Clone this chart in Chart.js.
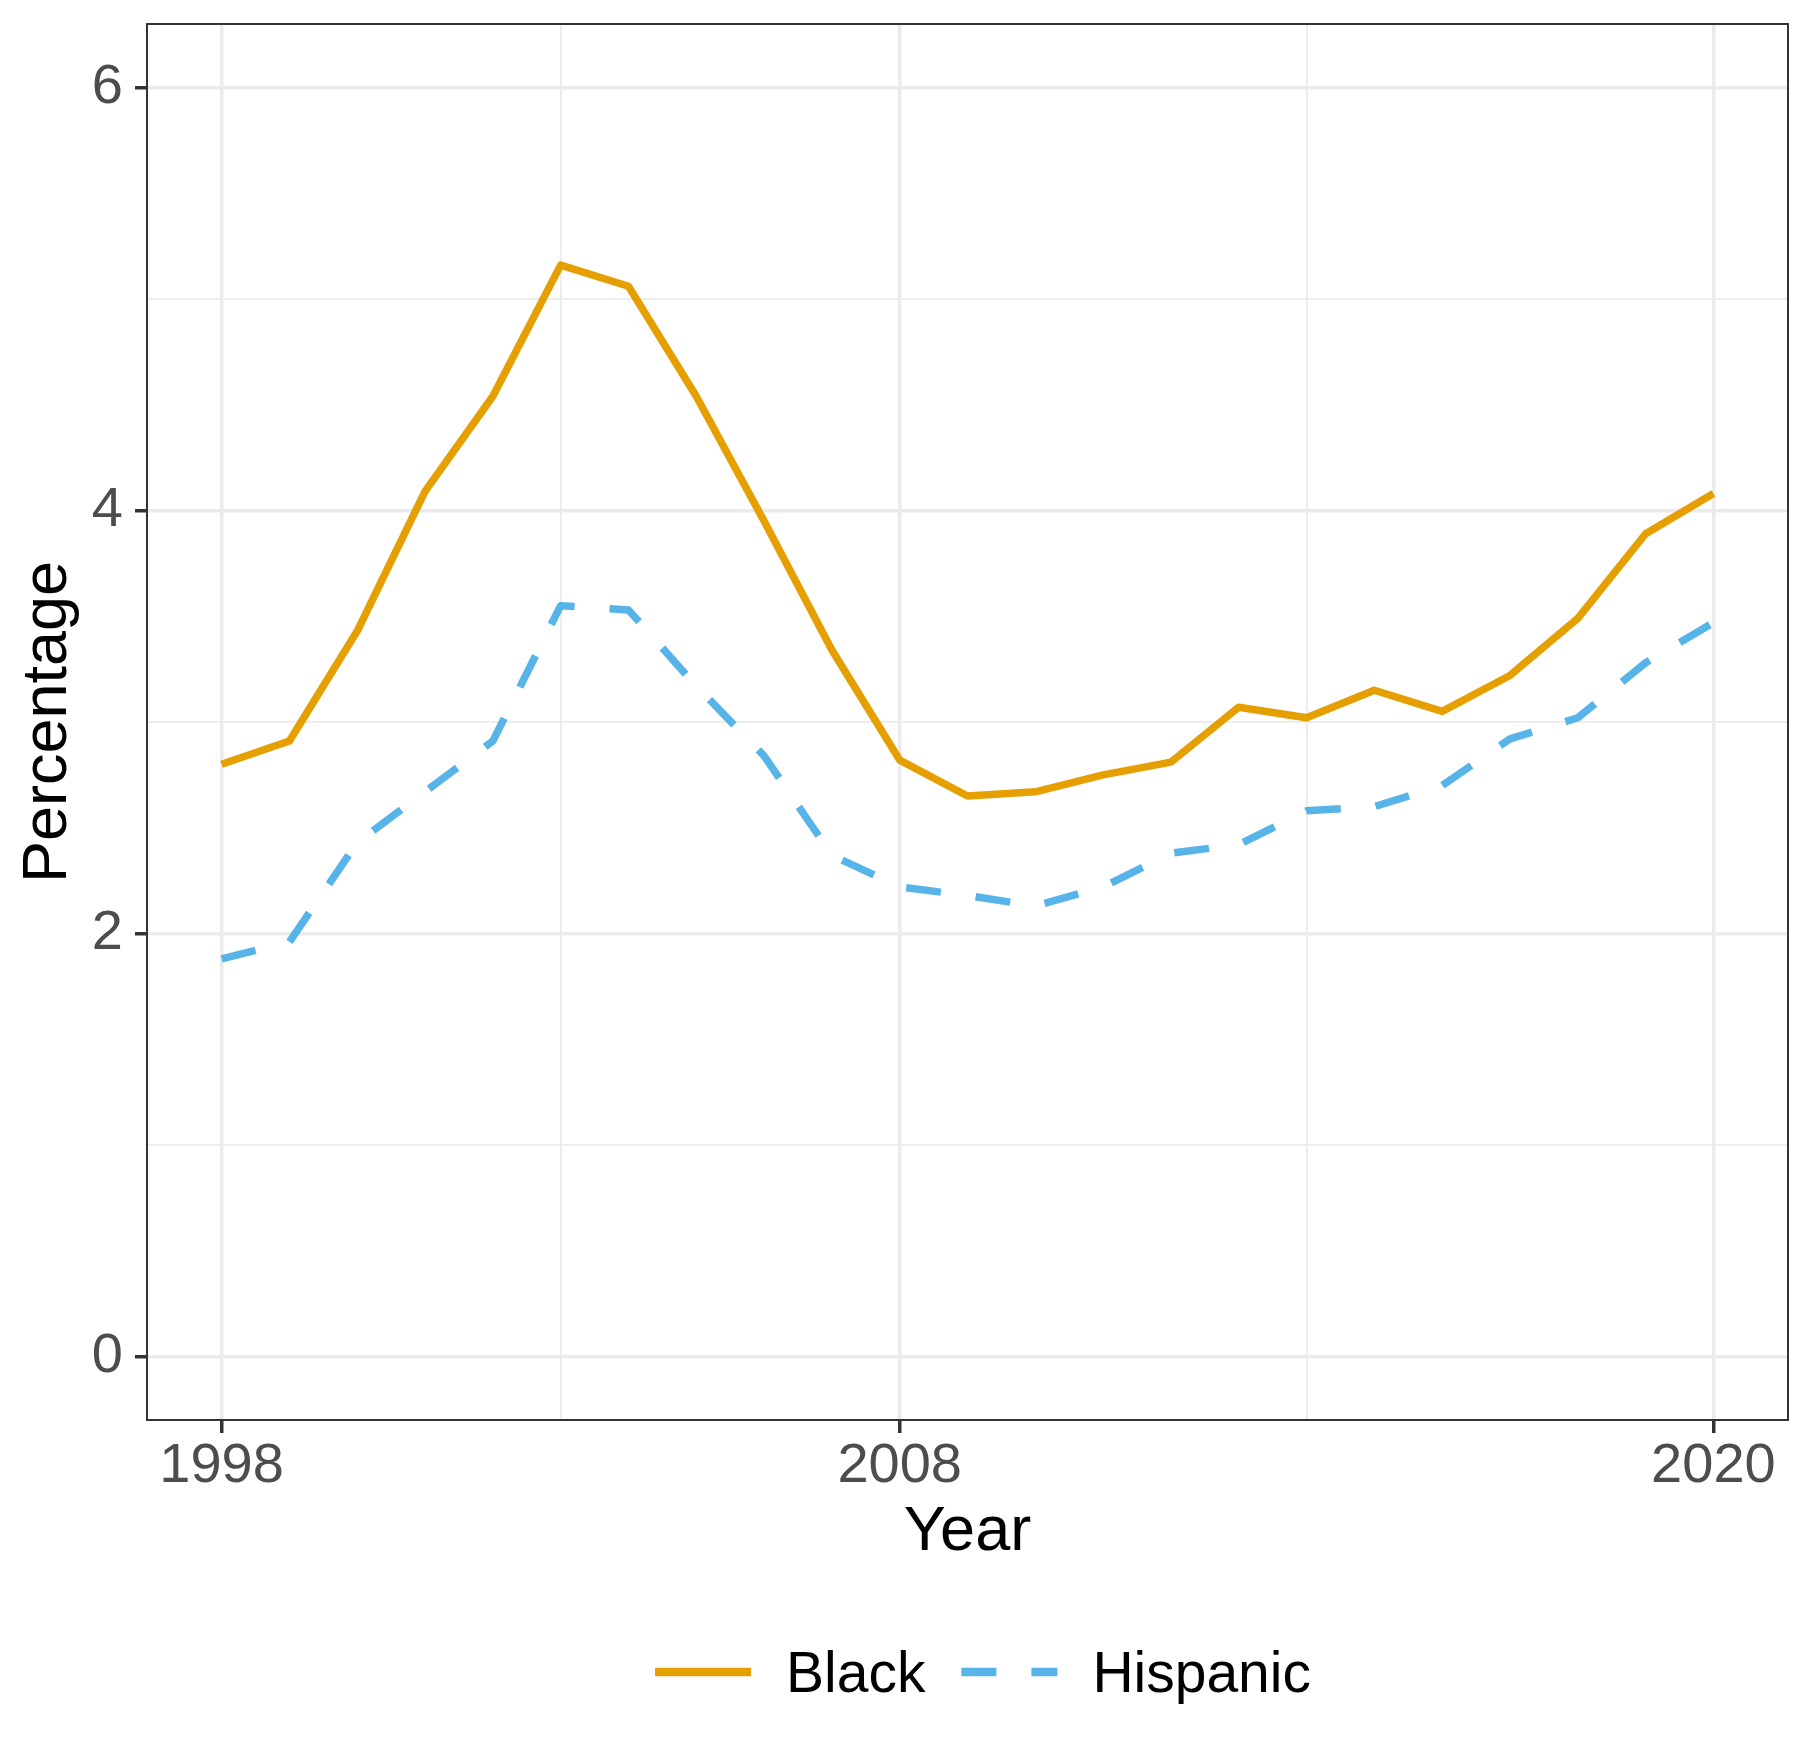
<!DOCTYPE html>
<html>
<head>
<meta charset="utf-8">
<script src="https://cdn.jsdelivr.net/npm/chart.js@4.4.0/dist/chart.umd.min.js"></script>
<style>
  html, body { margin: 0; padding: 0; background: #fff; }
  #wrap { width: 1812px; height: 1754px; }
</style>
</head>
<body>
<div id="wrap"><canvas id="chart" width="1812" height="1754"></canvas></div>
<script>
// données
const years = [1998, 1999, 2000, 2001, 2002, 2003, 2004, 2005, 2006, 2007, 2008,
  2009, 2010, 2011, 2012, 2013, 2014, 2015, 2016, 2017, 2018, 2019, 2020];
const black = [2.80, 2.91, 3.43, 4.09, 4.54, 5.16, 5.06, 4.54, 3.95, 3.34, 2.82,
  2.65, 2.67, 2.75, 2.81, 3.07, 3.02, 3.15, 3.05, 3.22, 3.49, 3.89, 4.08];
const hispanic = [1.88, 1.96, 2.43, 2.67, 2.91, 3.55, 3.53, 3.17, 2.84, 2.37, 2.22,
  2.18, 2.13, 2.22, 2.38, 2.42, 2.58, 2.60, 2.70, 2.92, 3.02, 3.28, 3.47];

// ticks : majeurs avec étiquette, mineurs = grille fine
const xMajor = [1998, 2008, 2020];
const xGrid = [1998, 2003, 2008, 2014, 2020];
const yMajor = [0, 2, 4, 6];
const yGrid = [0, 1, 2, 3, 4, 5, 6];

const FONT = "'Liberation Sans', Arial, Helvetica, sans-serif";
const GRID = '#EBEBEB';
const DARK = '#333333';

const toPoints = arr => arr.map((v, i) => ({x: years[i], y: v}));

// cadre du panneau (4 côtés)
const panelBorder = {
  id: 'panelBorder',
  afterDatasetsDraw(chart) {
    const {ctx, chartArea: a} = chart;
    ctx.save();
    ctx.strokeStyle = DARK;
    ctx.lineWidth = 2;
    ctx.strokeRect(a.left, a.top, a.right - a.left, a.bottom - a.top);
    ctx.restore();
  }
};

// légende en bas, façon ggplot
const bottomLegend = {
  id: 'bottomLegend',
  afterDraw(chart) {
    const ctx = chart.ctx;
    const keyW = 96, keyGap = 35, itemGap = 36;
    const cy = 1672;
    let x = 655;
    ctx.save();
    ctx.font = '57px ' + FONT;
    ctx.textBaseline = 'alphabetic';
    ctx.fillStyle = '#000';
    chart.data.datasets.forEach(ds => {
      ctx.strokeStyle = ds.borderColor;
      ctx.lineWidth = 8.5;
      ctx.lineCap = 'butt';
      ctx.setLineDash(ds.borderDash || []);
      ctx.beginPath();
      ctx.moveTo(x, cy);
      ctx.lineTo(x + keyW, cy);
      ctx.stroke();
      ctx.setLineDash([]);
      x += keyW + keyGap;
      ctx.fillText(ds.label, x, 1692);
      x += ctx.measureText(ds.label).width + itemGap;
    });
    ctx.restore();
  }
};

document.addEventListener('DOMContentLoaded', () => {
  const ctx = document.getElementById('chart').getContext('2d');
  new Chart(ctx, {
    type: 'line',
    data: {
      datasets: [
        {label: 'Black', data: toPoints(black), borderColor: '#E69F00', borderWidth: 7.5,
          pointRadius: 0, tension: 0, fill: false, borderJoinStyle: 'round', borderCapStyle: 'butt'},
        {label: 'Hispanic', data: toPoints(hispanic), borderColor: '#56B4E9', borderWidth: 7.5,
          borderDash: [35, 35], pointRadius: 0, tension: 0, fill: false,
          borderJoinStyle: 'round', borderCapStyle: 'butt'}
      ]
    },
    options: {
      responsive: false,
      devicePixelRatio: 1,
      animation: false,
      layout: {padding: {left: 0, right: 24, top: 24, bottom: 184}},
      plugins: {legend: {display: false}, tooltip: {enabled: false}},
      scales: {
        x: {
          type: 'linear', min: 1996.9, max: 2021.1,
          afterBuildTicks: s => { s.ticks = xGrid.map(v => ({value: v})); },
          afterFit: s => { s.height = 150; s.paddingLeft = 0; s.paddingRight = 0; },
          ticks: {
            autoSkip: false, maxRotation: 0, padding: 0,
            color: '#4D4D4D', font: {family: FONT, size: 56},
            callback: v => xMajor.includes(v) ? String(v) : ''
          },
          grid: {
            color: GRID,
            lineWidth: c => xMajor.includes(c.tick.value) ? 3.5 : 1.8,
            drawTicks: true, tickLength: 13, tickWidth: 3.5,
            tickColor: c => xMajor.includes(c.tick.value) ? DARK : 'rgba(0,0,0,0)'
          },
          border: {display: false},
          title: {display: true, text: 'Year', color: '#000',
            font: {family: FONT, size: 63}, padding: {top: 0, bottom: 0}}
        },
        y: {
          type: 'linear', min: -0.3, max: 6.3,
          afterBuildTicks: s => { s.ticks = yGrid.map(v => ({value: v})); },
          afterFit: s => { s.width = 147; s.paddingTop = 0; s.paddingBottom = 0; },
          ticks: {
            autoSkip: false, padding: 12,
            color: '#4D4D4D', font: {family: FONT, size: 56},
            callback: v => yMajor.includes(v) ? String(v) : ''
          },
          grid: {
            color: GRID,
            lineWidth: c => yMajor.includes(c.tick.value) ? 3.5 : 1.8,
            drawTicks: true, tickLength: 12, tickWidth: 3.5,
            tickColor: c => yMajor.includes(c.tick.value) ? DARK : 'rgba(0,0,0,0)'
          },
          border: {display: false},
          title: {display: true, text: 'Percentage', color: '#000',
            font: {family: FONT, size: 63}, padding: {top: 11, bottom: 0}}
        }
      }
    },
    plugins: [panelBorder, bottomLegend]
  });
});
</script>
</body>
</html>
